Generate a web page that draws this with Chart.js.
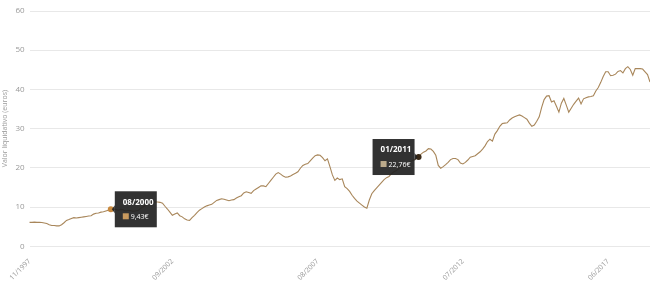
<!DOCTYPE html>
<html>
<head>
<meta charset="utf-8">
<script src="https://cdn.jsdelivr.net/npm/chart.js@4"></script>
<style>
  html, body { margin: 0; padding: 0; background: #fff; }
  #wrap { width: 650px; height: 289px; }
</style>
</head>
<body>
<div id="wrap"><canvas id="grafico"></canvas></div>
<script>
// Valor liquidativo mensual (euros), desde 11/1997
const mesInicio = 11, anioInicio = 1997;
const valores = [
  6.1, 6.1, 6.15, 6.1, 6.1, 6.05, 5.95, 5.8, 5.5, 5.3,
  5.3, 5.2, 5.2, 5.5, 6.0, 6.6, 6.8, 7.1, 7.3, 7.2,
  7.3, 7.4, 7.5, 7.6, 7.7, 7.8, 8.2, 8.4, 8.5, 8.7,
  8.8, 9.0, 9.2, 9.43, 9.5, 9.4, 9.2, 9.4, 9.3, 9.0,
  9.2, 9.1, 8.9, 9.0, 9.1, 9.6, 10.0, 10.4, 10.7, 11.0,
  11.2, 11.3, 11.3, 11.2, 11.0, 10.2, 9.5, 8.7, 7.9, 8.2,
  8.5, 7.8, 7.5, 7.0, 6.7, 6.6, 7.3, 7.9, 8.6, 9.2,
  9.6, 10.0, 10.3, 10.5, 10.7, 11.2, 11.7, 11.9, 12.1, 12.0,
  11.8, 11.6, 11.8, 11.9, 12.3, 12.6, 12.9, 13.6, 13.9, 13.7,
  13.5, 14.2, 14.6, 15.0, 15.4, 15.4, 15.2, 16.0, 16.8, 17.6,
  18.4, 18.8, 18.4, 17.9, 17.6, 17.7, 17.9, 18.3, 18.6, 19.0,
  19.9, 20.6, 20.9, 21.1, 21.8, 22.5, 23.1, 23.3, 23.2, 22.6,
  21.8, 22.3, 20.3, 18.2, 16.8, 17.4, 17.0, 17.2, 15.2, 14.7,
  14.0, 13.0, 12.2, 11.5, 11.0, 10.5, 10.0, 9.7, 11.8, 13.4,
  14.2, 14.9, 15.6, 16.3, 17.0, 17.5, 17.8, 18.5, 19.0, 19.3,
  19.8, 20.2, 20.5, 20.9, 21.3, 21.7, 22.0, 22.4, 22.76, 23.5,
  24.0, 24.3, 24.9, 24.8, 24.2, 23.2, 20.6, 19.9, 20.3, 20.8,
  21.4, 22.1, 22.4, 22.4, 22.1, 21.2, 21.0, 21.4, 22.0, 22.7,
  22.9, 23.1, 23.6, 24.1, 24.8, 25.6, 26.7, 27.3, 26.8, 28.6,
  29.5, 30.6, 31.3, 31.4, 31.5, 32.2, 32.7, 33.0, 33.3, 33.5,
  33.2, 32.8, 32.4, 31.4, 30.6, 30.9, 31.9, 33.0, 35.4, 37.4,
  38.3, 38.4, 36.8, 37.1, 35.7, 34.2, 36.5, 37.7, 36.0, 34.2,
  35.2, 36.2, 37.0, 37.8, 36.3, 37.6, 37.9, 38.1, 38.2, 38.4,
  39.6, 40.5, 41.8, 43.3, 44.5, 44.5, 43.5, 43.6, 43.9, 44.6,
  44.8, 44.2, 45.3, 45.8, 45.1, 43.6, 45.3, 45.3, 45.3, 45.2,
  44.5, 43.8, 41.9
];

// Etiquetas visibles del eje X y meses con tooltip fijo
const etiquetasEje = ['11/1997', '09/2002', '08/2007', '07/2012', '06/2017'];
const marcas = ['08/2000', '01/2011'];

// Categorías mes/año
const fechas = [];
for (let i = 0; i < valores.length; i++) {
  const m = (mesInicio - 1 + i) % 12 + 1;
  const a = anioInicio + Math.floor((mesInicio - 1 + i) / 12);
  fechas.push(String(m).padStart(2, '0') + '/' + a);
}

const fmtEuro = v => v.toFixed(2).replace('.', ',') + '€';

// Dibuja los dos tooltips fijos sobre sus puntos
const tooltipsFijos = {
  id: 'tooltipsFijos',
  afterDatasetsDraw(chart, args, opts) {
    const ctx = chart.ctx;
    const meta = chart.getDatasetMeta(0);
    marcas.forEach((m, k) => {
      const idx = fechas.indexOf(m);
      if (idx < 0) return;
      const p = meta.data[idx];
      const st = opts.estilos[k];
      const w = 42, h = 36, caret = 4;
      const x0 = st.lado === 'derecha' ? p.x + caret : p.x - caret - w;
      const y0 = p.y - h / 2;

      ctx.save();
      // punto
      ctx.beginPath();
      ctx.arc(p.x, p.y, 3, 0, Math.PI * 2);
      ctx.fillStyle = st.punto;
      ctx.fill();
      // caja
      ctx.fillStyle = 'rgba(34,34,34,0.93)';
      ctx.fillRect(x0, y0, w, h);
      ctx.beginPath();
      if (st.lado === 'derecha') {
        ctx.moveTo(x0, p.y - caret); ctx.lineTo(p.x + 1, p.y); ctx.lineTo(x0, p.y + caret);
      } else {
        ctx.moveTo(x0 + w, p.y - caret); ctx.lineTo(p.x - 1, p.y); ctx.lineTo(x0 + w, p.y + caret);
      }
      ctx.fill();
      // título
      ctx.fillStyle = '#fff';
      ctx.textBaseline = 'middle';
      ctx.font = 'bold 8px "Open Sans", sans-serif';
      ctx.fillText(m, x0 + 8, y0 + 11);
      // cuadro de color + valor
      ctx.fillStyle = st.cuadro;
      ctx.fillRect(x0 + 8, y0 + 22, 6, 6);
      ctx.fillStyle = '#fff';
      ctx.font = '7px "Open Sans", sans-serif';
      ctx.fillText(fmtEuro(valores[idx]), x0 + 16, y0 + 25.5);
      ctx.restore();
    });
  }
};

new Chart(document.getElementById('grafico'), {
  type: 'line',
  data: {
    labels: fechas,
    datasets: [{
      data: valores,
      borderColor: '#a8865a',
      borderWidth: 1.1,
      pointRadius: 0,
      tension: 0,
      fill: false
    }]
  },
  options: {
    responsive: true,
    maintainAspectRatio: false,
    animation: false,
    layout: { padding: { top: 11, right: 0, bottom: 4, left: 1 } },
    plugins: {
      legend: { display: false },
      tooltip: { enabled: false },
      tooltipsFijos: {
        estilos: [
          { lado: 'derecha', punto: '#c8893e', cuadro: '#c99a5e' },
          { lado: 'izquierda', punto: '#3a2a18', cuadro: '#bba98a' }
        ]
      }
    },
    scales: {
      x: {
        grid: { display: false },
        border: { display: false },
        ticks: {
          autoSkip: false,
          minRotation: 45,
          maxRotation: 45,
          color: '#999',
          font: { family: '"Open Sans", sans-serif', size: 7 },
          callback: function (v, i) {
            const l = fechas[i];
            return etiquetasEje.includes(l) ? l : null;
          }
        }
      },
      y: {
        min: 0,
        max: 60,
        border: { display: false },
        grid: { color: '#e8e8e8', drawTicks: false },
        ticks: {
          stepSize: 10,
          padding: 5,
          color: '#999',
          font: { family: '"Open Sans", sans-serif', size: 8 }
        },
        title: {
          display: true,
          text: 'Valor liquidativo (euros)',
          color: '#999',
          font: { family: '"Open Sans", sans-serif', size: 7 },
          padding: { top: 0, bottom: 1 }
        }
      }
    }
  },
  plugins: [tooltipsFijos]
});
</script>
</body>
</html>
